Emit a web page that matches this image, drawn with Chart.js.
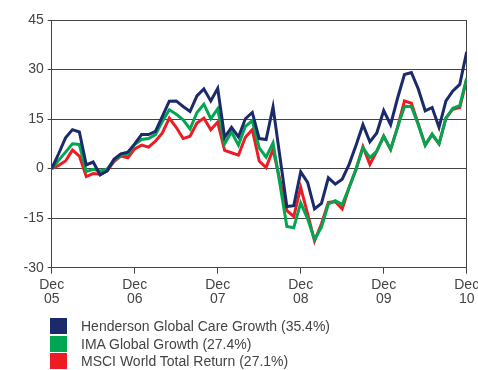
<!doctype html>
<html lang="en">
<head>
<meta charset="utf-8">
<title>Performance chart</title>
<script src="https://cdn.jsdelivr.net/npm/chart.js"></script>
<style>
  body { margin: 0; background: #fff; }
  #wrap { position: relative; width: 478px; height: 370px; overflow: hidden; }
  #legend { position: absolute; left: 50px; top: 317px; font: 14px "Liberation Sans", Arial, sans-serif; color: #444; }
  #legend div { height: 17.8px; display: flex; align-items: center; }
  #legend span.box { width: 17px; height: 16px; margin-right: 14px; display: inline-block; }
</style>
</head>
<body>
<div id="wrap">
  <canvas id="chart" width="478" height="370"></canvas>
  <div id="legend"></div>
</div>
<script>
const yearLabels = ['05', '06', '07', '08', '09', '10']
const seriesNames = [
  'Henderson Global Care Growth (35.4%)',
  'IMA Global Growth (27.4%)',
  'MSCI World Total Return (27.1%)'
]
const seriesColors = ['#1b2a6b', '#00a651', '#ed1c24']

// monthly cumulative % change, Dec 05 .. Dec 10
const henderson = [
  0, 4.5, 9.3, 11.8, 11.1, 1.1, 2, -1.9, -0.7, 2.8, 4.5, 5,
  7.5, 10.3, 10.3, 11.3, 15.8, 20.4, 20.5, 18.8, 17.3, 22, 24.1, 20.5,
  24.3, 9.5, 12.5, 9.6, 15.1, 17, 9.1, 8.8, 18.7, 3.5, -11.5, -11.2,
  -1, -4.2, -12.2, -10.5, -2.8, -4.7, -3.2, 1.3, 7.1, 13.3, 8.1, 10.8,
  17.6, 13.3, 21.3, 28.5, 29.1, 24.1, 17.5, 18.5, 12.5, 20.5, 23.5, 25.5,
  35.4
]
const imaGlobal = [
  0, 2.5, 5, 7.5, 7.3, -0.9, -0.2, -0.7, -0.2, 2.5, 4.1, 4.3,
  7.3, 8.8, 9.1, 10.3, 14.3, 17.8, 16.5, 14.8, 12, 17, 19.5, 15.1,
  18.1, 7.5, 11.1, 7.1, 12.8, 14.5, 6.3, 3.5, 7.8, -4.7, -17.5, -17.9,
  -10.4, -15.2, -21.5, -17.7, -10.7, -9.7, -10.9, -5.7, -0.2, 6.3, 3.3, 5.3,
  9.8, 5.8, 12.5, 18.8, 18.8, 13.3, 7.1, 10.5, 7.5, 15.3, 18.3, 19.1,
  27.4
]
const msciWorld = [
  0, 1, 2.3, 5.6, 3.8, -2.4, -1.5, -1.7, -0.7, 2.1, 3.8, 3.3,
  6, 7.1, 6.5, 8.3, 10.8, 15.3, 12.5, 9.1, 9.8, 13.8, 15.3, 11.8,
  14.1, 5.5, 4.8, 4.1, 9.5, 11.8, 2.3, 0.3, 5.8, -3.5, -12.7, -14.5,
  -5.7, -13.7, -21.9, -16.7, -10.2, -10, -12.2, -5.7, -0.2, 6.6, 1.3, 5.3,
  9.8, 5.8, 12.5, 20.5, 19.8, 13.5, 7.1, 10.3, 7.5, 15.3, 18, 18.5,
  27.1
]

const allSeries = [henderson, imaGlobal, msciWorld]
const axisColor = '#444'
const font = { family: '"Liberation Sans", Arial, sans-serif', size: 14 }

new Chart(document.getElementById('chart'), {
  type: 'line',
  data: {
    datasets: allSeries.map((vals, k) => ({
      label: seriesNames[k],
      data: vals.map((v, i) => ({ x: i, y: v })),
      borderColor: seriesColors[k],
      borderWidth: 3,
      pointRadius: 0,
      tension: 0,
      fill: false
    }))
  },
  options: {
    responsive: false,
    animation: false,
    devicePixelRatio: 1,
    layout: { padding: { top: 20, right: 11.3, left: 0, bottom: 0 } },
    plugins: { legend: { display: false }, tooltip: { enabled: false } },
    scales: {
      x: {
        type: 'linear',
        min: 0,
        max: 60,
        afterFit: (s) => {
          s.height = 102.3
          // let the last label run off the edge like the original
          s.paddingLeft = 0
          s.paddingRight = 0
        },
        ticks: {
          stepSize: 12,
          color: '#444',
          font: { ...font, lineHeight: 0.95 },
          padding: 5,
          maxRotation: 0,
          callback: (v) => ['Dec', yearLabels[v / 12]]
        },
        grid: {
          color: (ctx) => (ctx.tick && ctx.tick.value === 60 ? axisColor : 'rgba(0,0,0,0)'),
          tickColor: axisColor,
          tickLength: 6
        },
        border: { color: axisColor }
      },
      y: {
        min: -30,
        max: 45,
        afterFit: (s) => { s.width = 51.7 },
        ticks: { stepSize: 15, color: '#444', font, padding: 4 },
        grid: { color: axisColor, tickLength: 4 },
        border: { color: axisColor }
      }
    }
  }
})

const legend = document.getElementById('legend')
seriesNames.forEach((name, k) => {
  const row = document.createElement('div')
  row.innerHTML = '<span class="box" style="background:' + seriesColors[k] + '"></span>' + name
  legend.appendChild(row)
})
</script>
</body>
</html>
